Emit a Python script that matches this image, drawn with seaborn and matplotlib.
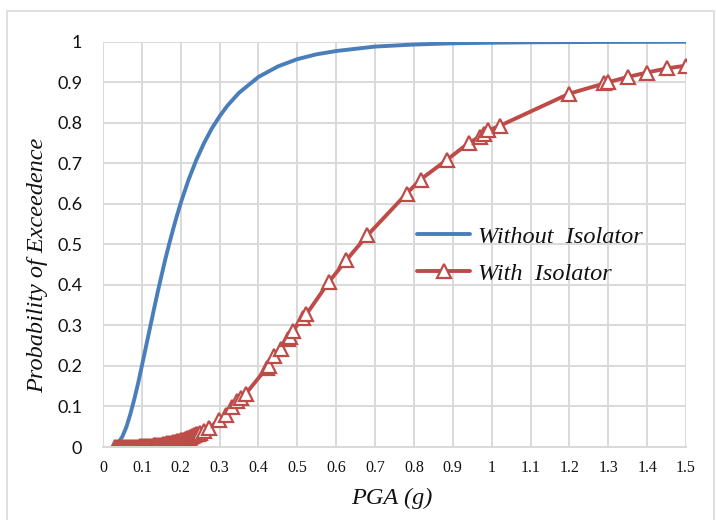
import matplotlib
matplotlib.use("Agg")
import matplotlib.pyplot as plt
import seaborn as sns
import pandas as pd
from matplotlib.patches import Rectangle

# ---- data ----
pga_without = [0.035, 0.04, 0.05, 0.06, 0.07, 0.08, 0.09, 0.1, 0.11, 0.12, 0.13,
               0.14, 0.15, 0.16, 0.17, 0.18, 0.19, 0.2, 0.22, 0.24, 0.26, 0.28,
               0.3, 0.32, 0.35, 0.4, 0.45, 0.5, 0.55, 0.6, 0.7, 0.8, 0.9, 1.0,
               1.1, 1.2, 1.3, 1.4, 1.5]
pe_without = [0.005, 0.011, 0.026, 0.049, 0.080, 0.116, 0.156, 0.200, 0.245, 0.290,
              0.335, 0.379, 0.421, 0.462, 0.500, 0.536, 0.570, 0.602, 0.659, 0.708,
              0.750, 0.786, 0.816, 0.842, 0.874, 0.913, 0.939, 0.957, 0.969, 0.977,
              0.988, 0.993, 0.996, 0.9975, 0.9985, 0.999, 0.9994, 0.9996, 0.9998]

pga_with = [0.03, 0.035, 0.04, 0.045, 0.05, 0.055, 0.06, 0.065, 0.07, 0.075, 0.08,
            0.085, 0.09, 0.095, 0.1, 0.105, 0.11, 0.115, 0.12, 0.125, 0.13, 0.135,
            0.14, 0.145, 0.15, 0.155, 0.16, 0.165, 0.17, 0.175, 0.18, 0.185, 0.19,
            0.195, 0.2, 0.205, 0.21, 0.215, 0.22, 0.225, 0.23, 0.235, 0.24, 0.245,
            0.25, 0.26, 0.273, 0.298, 0.316, 0.333, 0.346, 0.355, 0.367, 0.422,
            0.427, 0.441, 0.459, 0.476, 0.48, 0.488, 0.514, 0.523, 0.581, 0.626,
            0.68, 0.781, 0.817, 0.884, 0.941, 0.97, 0.979, 0.991, 1.022, 1.2, 1.29,
            1.3, 1.35, 1.4, 1.45, 1.5]
pe_with = [0.0, 0.0, 0.0, 0.0, 0.0, 0.0, 0.0005, 0.0005, 0.0005, 0.001, 0.001,
           0.001, 0.001, 0.0015, 0.002, 0.002, 0.002, 0.0025, 0.003, 0.0035, 0.004,
           0.004, 0.005, 0.005, 0.006, 0.007, 0.008, 0.009, 0.010, 0.011, 0.012,
           0.013, 0.014, 0.016, 0.017, 0.018, 0.020, 0.021, 0.023, 0.025, 0.027,
           0.029, 0.031, 0.033, 0.035, 0.040, 0.047, 0.066, 0.080, 0.098, 0.113,
           0.122, 0.131, 0.196, 0.200, 0.225, 0.243, 0.266, 0.272, 0.286, 0.319,
           0.327, 0.407, 0.461, 0.522, 0.625, 0.660, 0.708, 0.750, 0.766, 0.773,
           0.781, 0.793, 0.872, 0.897, 0.900, 0.913, 0.924, 0.934, 0.941]

x_ticks = [0, 0.1, 0.2, 0.3, 0.4, 0.5, 0.6, 0.7, 0.8, 0.9, 1.0, 1.1, 1.2, 1.3, 1.4, 1.5]
x_tick_labels = ["0", "0.1", "0.2", "0.3", "0.4", "0.5", "0.6", "0.7", "0.8", "0.9",
                 "1", "1.1", "1.2", "1.3", "1.4", "1.5"]
y_ticks = [0, 0.1, 0.2, 0.3, 0.4, 0.5, 0.6, 0.7, 0.8, 0.9, 1.0]
y_tick_labels = ["0", "0.1", "0.2", "0.3", "0.4", "0.5", "0.6", "0.7", "0.8", "0.9", "1"]

label_without = "Without  Isolator"
label_with = "With  Isolator"

df_without = pd.DataFrame({"PGA": pga_without, "PE": pe_without})
df_with = pd.DataFrame({"PGA": pga_with, "PE": pe_with})

sns.set_theme(style="white")
blue = "#4A7EBB"
red = "#BE4B48"
grid_c = "#D9D9D9"

fig = plt.figure(figsize=(7.16, 5.2), dpi=100)
ax = fig.add_axes([103 / 716, 1 - 447 / 520, 583 / 716, (447 - 41.7) / 520])

sns.lineplot(data=df_without, x="PGA", y="PE", ax=ax, color=blue, linewidth=2.8,
             estimator=None, sort=False, label=label_without)
sns.lineplot(data=df_with, x="PGA", y="PE", ax=ax, color=red, linewidth=2.8,
             estimator=None, sort=False, marker="^", markersize=9.5,
             markerfacecolor="white", markeredgecolor=red, markeredgewidth=1.6,
             label=label_with)

ax.set_xlim(0, 1.5)
ax.set_ylim(0, 1)
ax.set_xticks(x_ticks)
ax.set_xticklabels(x_tick_labels, family="Liberation Serif", fontsize=11.5)
ax.set_yticks(y_ticks)
ax.set_yticklabels(y_tick_labels, family="Lato", fontsize=13)
ax.tick_params(axis="both", length=0)
ax.tick_params(axis="x", pad=9)
ax.tick_params(axis="y", pad=15)
for lab in ax.get_yticklabels():
    lab.set_color("#111111")
for lab in ax.get_xticklabels():
    lab.set_color("#111111")

ax.grid(True, color=grid_c, linewidth=1.4)
ax.set_axisbelow(True)
for s in ["top", "right", "left"]:
    ax.spines[s].set_visible(False)
ax.spines["bottom"].set_color(grid_c)
ax.spines["bottom"].set_linewidth(1.4)

ax.set_xlabel("PGA (g)", family="Liberation Serif", style="italic", fontsize=17.5,
              color="#111111")
ax.set_ylabel("Probability of Exceedence", family="Liberation Serif", style="italic",
              fontsize=17.5, color="#111111")
ax.xaxis.label.set_verticalalignment("center")
ax.yaxis.label.set_verticalalignment("center")
ax.xaxis.set_label_coords(0.496, -0.126)
ax.yaxis.set_label_coords(-0.1115, 0.447)

leg = ax.legend(loc="upper left", bbox_to_anchor=(0.539, 0.546), frameon=False,
                borderpad=0, borderaxespad=0, handlelength=2.18, handletextpad=0.3,
                labelspacing=0.62,
                prop={"family": "Liberation Serif", "style": "italic", "size": 17.5})
for t in leg.get_texts():
    t.set_color("#111111")

fig.patches.append(Rectangle((7.5 / 716, -0.1), (713.5 - 7.5) / 716, 1.1 - 11 / 520,
                             transform=fig.transFigure, fill=False,
                             edgecolor=grid_c, linewidth=1.2))

fig.savefig("out.png", dpi=100, facecolor="white")
